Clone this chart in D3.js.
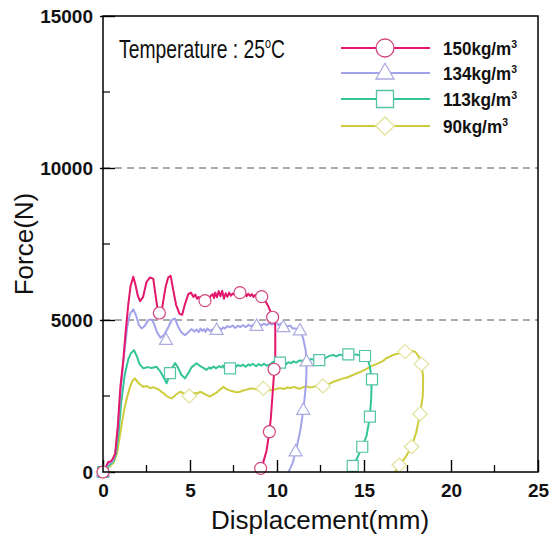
<!DOCTYPE html>
<html><head><meta charset="utf-8">
<script src="https://cdn.jsdelivr.net/npm/d3@7"></script>
<style>body{margin:0;background:#fff}svg{display:block}text{font-family:"Liberation Sans",Arial,sans-serif}</style>
</head><body><svg id="c" width="552" height="540"></svg>
<script>
const xTicks=[0,5,10,15,20,25];
const yTicks=[0,5000,10000,15000];
const gridValues=[5000,10000];
const seriesNames=["150kg/m","134kg/m","113kg/m","90kg/m"];
const seriesColors=["#e3166c","#a3a3ec","#35c497","#cccc3c"];
const markerColors=["#d2457e","#ababe0","#55c3a6","#e2e29a"];
const markerShapes=["circle","triangle","square","diamond"];

const line150=[[0,0],[0.15,150],[0.3,330],[0.45,350],[0.55,420],[0.7,600],[0.85,1500],[1.0,2800],[1.17,3700],[1.3,4600],[1.45,5500],[1.58,6100],[1.74,6420],[1.85,6200],[2.0,5800],[2.13,5620],[2.3,5750],[2.5,6250],[2.7,6400],[2.89,6350],[3.0,5900],[3.15,5300],[3.26,5180],[3.4,5400],[3.6,6100],[3.75,6400],[3.89,6450],[4.0,6100],[4.2,5500],[4.4,5200],[4.55,5170],[4.7,5500],[4.9,5850],[5.05,5900],[5.2,5760],[5.3,5840],[5.4,5700],[5.5,5760],[5.6,5650],[5.7,5700],[5.9,5630],[6.0,5720],[6.1,5680],[6.2,5800],[6.3,5850],[6.38,5720],[6.45,5900],[6.55,5750],[6.65,5950],[6.75,5780],[6.85,5960],[6.95,5700],[7.05,5880],[7.15,5760],[7.25,5900],[7.35,5800],[7.45,5870],[7.6,5820],[7.75,5920],[7.9,5900],[8.05,5840],[8.15,5900],[8.25,5780],[8.35,5860],[8.45,5790],[8.55,5850],[8.65,5760],[8.75,5830],[8.9,5740],[9.0,5800],[9.12,5770],[9.3,5650],[9.5,5450],[9.65,5250],[9.75,5090],[9.85,5000],[9.9,4800],[9.9,3700],[9.85,3400],[9.75,2600],[9.65,1800],[9.56,1320],[9.4,700],[9.2,300],[9.06,100],[9.0,0]];
const line134=[[0,0],[0.2,150],[0.4,300],[0.55,350],[0.7,600],[0.85,1400],[1.0,2600],[1.2,3800],[1.4,4800],[1.55,5200],[1.74,5350],[1.9,5150],[2.05,4850],[2.22,4720],[2.4,4800],[2.6,5000],[2.8,5020],[2.95,4850],[3.1,4600],[3.3,4420],[3.5,4500],[3.7,4700],[3.95,5000],[4.14,5050],[4.3,4800],[4.5,4600],[4.71,4500],[4.9,4600],[5.1,4700],[5.25,4620],[5.38,4690],[5.5,4600],[5.6,4720],[5.7,4640],[5.8,4700],[5.9,4610],[6.0,4720],[6.15,4640],[6.3,4690],[6.53,4670],[6.7,4740],[6.8,4680],[6.9,4760],[7.0,4720],[7.15,4800],[7.3,4760],[7.45,4820],[7.6,4740],[7.75,4810],[7.9,4770],[8.05,4830],[8.2,4760],[8.35,4840],[8.5,4790],[8.65,4850],[8.83,4800],[9.0,4870],[9.1,4820],[9.25,4880],[9.4,4830],[9.55,4900],[9.7,4850],[9.85,4910],[9.98,4890],[10.1,4830],[10.2,4880],[10.36,4760],[10.5,4830],[10.6,4780],[10.75,4820],[10.9,4720],[11.1,4720],[11.32,4650],[11.5,4400],[11.65,4000],[11.7,3630],[11.68,3000],[11.6,2500],[11.51,2040],[11.35,1400],[11.2,1000],[11.07,670],[10.9,300],[10.75,100],[10.65,0]];
const line113=[[0,0],[0.2,120],[0.4,250],[0.6,350],[0.75,600],[0.9,1300],[1.05,2300],[1.25,3200],[1.45,3700],[1.6,3900],[1.78,4010],[1.95,3800],[2.1,3550],[2.32,3410],[2.55,3450],[2.8,3420],[3.08,3460],[3.3,3300],[3.5,3100],[3.66,2920],[3.8,3150],[3.95,3400],[4.14,3580],[4.3,3450],[4.5,3200],[4.71,3080],[4.9,3250],[5.1,3450],[5.38,3580],[5.6,3480],[5.95,3360],[6.1,3440],[6.2,3400],[6.35,3470],[6.5,3410],[6.65,3480],[6.8,3440],[6.9,3500],[7.0,3400],[7.15,3460],[7.3,3410],[7.45,3480],[7.6,3440],[7.75,3520],[7.9,3480],[8.05,3530],[8.2,3460],[8.35,3540],[8.45,3500],[8.6,3560],[8.8,3480],[8.95,3550],[9.1,3500],[9.25,3560],[9.4,3500],[9.6,3540],[9.79,3630],[9.9,3550],[10.0,3590],[10.21,3490],[10.35,3570],[10.5,3540],[10.65,3610],[10.8,3580],[10.95,3640],[11.1,3600],[11.3,3670],[11.51,3660],[11.65,3700],[11.8,3640],[11.95,3720],[12.1,3690],[12.25,3740],[12.43,3690],[12.6,3780],[12.8,3750],[13.0,3820],[13.24,3850],[13.4,3800],[13.6,3860],[13.8,3830],[14.1,3880],[14.3,3840],[14.5,3870],[14.8,3830],[15.06,3815],[15.25,3650],[15.34,3460],[15.44,3050],[15.42,2500],[15.34,1820],[15.15,1200],[14.9,830],[14.6,450],[14.35,200],[14.2,0]];
const line90=[[0,0],[0.2,100],[0.4,200],[0.6,300],[0.8,600],[1.0,1300],[1.2,2000],[1.36,2400],[1.55,2800],[1.7,3000],[1.84,3080],[2.0,2950],[2.15,2870],[2.32,2800],[2.5,2830],[2.7,2760],[2.9,2790],[3.08,2740],[3.25,2690],[3.4,2620],[3.55,2560],[3.7,2480],[3.94,2420],[4.1,2490],[4.2,2550],[4.43,2640],[4.6,2600],[4.7,2560],[4.96,2500],[5.15,2560],[5.3,2600],[5.45,2580],[5.57,2640],[5.75,2600],[5.85,2560],[6.0,2520],[6.15,2480],[6.3,2540],[6.5,2600],[6.7,2700],[6.92,2800],[7.05,2740],[7.2,2700],[7.35,2670],[7.5,2650],[7.7,2620],[7.87,2640],[8.05,2680],[8.2,2700],[8.4,2740],[8.6,2750],[8.8,2720],[9.02,2700],[9.2,2740],[9.4,2720],[9.6,2690],[9.79,2700],[10.0,2740],[10.2,2760],[10.4,2730],[10.6,2780],[10.8,2760],[10.94,2800],[11.1,2770],[11.3,2740],[11.5,2790],[11.7,2820],[11.9,2780],[12.1,2800],[12.35,2850],[12.64,2830],[12.8,2870],[13.0,2900],[13.2,2960],[13.4,3000],[13.6,3040],[13.8,3080],[14.0,3100],[14.2,3150],[14.4,3200],[14.6,3250],[14.8,3290],[15.0,3350],[15.2,3410],[15.34,3460],[15.5,3500],[15.7,3550],[15.85,3580],[16.0,3620],[16.15,3680],[16.3,3750],[16.5,3800],[16.68,3850],[16.85,3880],[17.0,3900],[17.2,3940],[17.36,3960],[17.5,3930],[17.65,3940],[17.8,3980],[17.93,3960],[18.05,3880],[18.15,3800],[18.3,3550],[18.4,3130],[18.38,2500],[18.22,1910],[18.0,1300],[17.74,830],[17.4,500],[17.03,230],[16.78,0]];

const marks150=[[0,0],[3.24,5230],[5.86,5635],[7.87,5900],[9.12,5770],[9.75,5090],[9.83,3380],[9.56,1325],[9.06,120]];
const marks134=[[0,0],[3.62,4340],[6.53,4670],[8.83,4800],[10.36,4760],[11.32,4650],[11.7,3630],[11.51,2040],[11.07,670]];
const marks113=[[0,0],[3.85,3250],[7.3,3410],[10.17,3600],[12.43,3680],[14.1,3870],[15.06,3815],[15.46,3050],[15.34,1820],[14.9,830],[14.35,200]];
const marks90=[[0,0],[4.96,2500],[9.21,2750],[12.64,2830],[17.36,3960],[18.3,3550],[18.22,1910],[17.74,830],[17.03,230]];

const lines=[line150,line134,line113,line90];
const marks=[marks150,marks134,marks113,marks90];

const svg=d3.select("#c");
const L=103,R=538,T=16,B=472;
const x=d3.scaleLinear().domain([0,25]).range([L,R]);
const y=d3.scaleLinear().domain([0,15000]).range([B,T]);

// grid
svg.selectAll(".grid").data(gridValues).join("line")
 .attr("x1",L).attr("x2",R).attr("y1",d=>y(d)).attr("y2",d=>y(d))
 .attr("stroke","#555").attr("stroke-width",1).attr("stroke-dasharray","7,5");

// minor ticks
const xMinor=d3.range(2.5,25,5);
svg.selectAll(".xm").data(xMinor).join("line")
 .attr("x1",d=>x(d)).attr("x2",d=>x(d)).attr("y1",B).attr("y2",B-7).attr("stroke","#000").attr("stroke-width",1.3);
const yMinor=d3.range(2500,15000,5000);
svg.selectAll(".ym").data(yMinor).join("line")
 .attr("y1",d=>y(d)).attr("y2",d=>y(d)).attr("x1",L).attr("x2",L+7).attr("stroke","#000").attr("stroke-width",1.2);

// axes
const xa=svg.append("g").attr("transform",`translate(0,${B})`)
 .call(d3.axisBottom(x).tickValues(xTicks).tickSize(0).tickPadding(12).tickFormat(d3.format("d")));
xa.selectAll(".tick line").remove();
xa.selectAll(".tick").append("line").attr("y1",0).attr("y2",-12).attr("stroke","#000").attr("stroke-width",1.4);
xa.select(".domain").remove();
const ya=svg.append("g").attr("transform",`translate(${L},0)`)
 .call(d3.axisLeft(y).tickValues(yTicks).tickSizeInner(8).tickSizeOuter(0).tickPadding(2).tickFormat(d3.format("d")));
ya.selectAll(".tick line").attr("x2",-3).attr("x1",12).attr("stroke-width",1.4);
ya.select(".domain").remove();
svg.selectAll(".tick text").attr("font-size",19).attr("font-weight","bold").attr("fill","#111")
 .attr("font-family","'Liberation Sans',Arial,sans-serif");

// lines
const lg=d3.line().x(d=>x(d[0])).y(d=>y(d[1])).curve(d3.curveLinear);
const order=[3,2,1,0];
order.forEach(i=>{
 svg.append("path").datum(lines[i]).attr("d",lg).attr("fill","none")
  .attr("stroke",seriesColors[i]).attr("stroke-width",2).attr("stroke-linejoin","round");
});

function markerPath(shape,r){
 if(shape==="circle") return d3.symbol().type(d3.symbolCircle).size(Math.PI*r*r)();
 if(shape==="square") return `M${-r},${-r}H${r}V${r}H${-r}Z`;
 if(shape==="triangle"){const h=r*1.75;return `M0,${-h*0.62}L${r},${h*0.38}L${-r},${h*0.38}Z`;}
 return `M0,${-r}L${r*1.05},0L0,${r}L${-r*1.05},0Z`;
}
const plotR={circle:6,triangle:6.5,square:5.5,diamond:7};
const legR={circle:9,triangle:9,square:8.5,diamond:9};
order.forEach(i=>{
 svg.selectAll(".m"+i).data(marks[i]).join("path")
  .attr("d",markerPath(markerShapes[i],plotR[markerShapes[i]]))
  .attr("transform",d=>`translate(${x(d[0])},${y(d[1])})`)
  .attr("fill","#fff").attr("stroke",markerColors[i]).attr("stroke-width",1.2);
});

// frame
svg.append("rect").attr("x",L).attr("y",T).attr("width",R-L).attr("height",B-T)
 .attr("fill","none").attr("stroke","#000").attr("stroke-width",1.5);

// titles
svg.append("text").attr("x",320).attr("y",529).attr("text-anchor","middle").attr("font-size",26).attr("fill","#111").text("Displacement(mm)");
svg.append("text").attr("transform","translate(33,244) rotate(-90)").attr("text-anchor","middle").attr("font-size",26).attr("fill","#111").text("Force(N)");

// temperature label
const tt=svg.append("text").attr("x",119).attr("y",58).attr("font-size",25).attr("fill","#111")
 .attr("textLength",166).attr("lengthAdjust","spacingAndGlyphs");
tt.append("tspan").text("Temperature : 25");
tt.append("tspan").attr("font-size",14).attr("dy",-10).text("o");
tt.append("tspan").attr("dy",10).text("C");

// legend
const legY=[48,73,99,126];
seriesNames.forEach((n,i)=>{
 svg.append("line").attr("x1",341).attr("x2",430).attr("y1",legY[i]).attr("y2",legY[i])
  .attr("stroke",seriesColors[i]).attr("stroke-width",2);
 svg.append("path").attr("d",markerPath(markerShapes[i],legR[markerShapes[i]]))
  .attr("transform",`translate(385,${legY[i]})`)
  .attr("fill","#fff").attr("stroke",markerColors[i]).attr("stroke-width",1.3);
 const t=svg.append("text").attr("x",443).attr("y",legY[i]+7).attr("font-size",18).attr("font-weight","bold").attr("fill","#111")
  .attr("textLength",i===3?65:74).attr("lengthAdjust","spacingAndGlyphs");
 t.append("tspan").text(n);
 t.append("tspan").attr("font-size",11).attr("dy",-7).text("3");
});
</script></body></html>
